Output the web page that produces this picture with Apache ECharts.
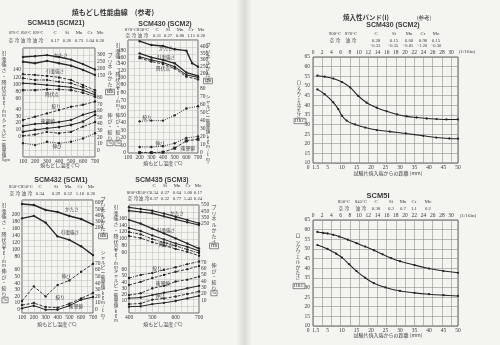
<!DOCTYPE html>
<html><head><meta charset="utf-8">
<script src="https://cdn.jsdelivr.net/npm/echarts/dist/echarts.min.js"></script>
<style>html,body{margin:0;padding:0;background:#f4f4f1}#c{width:500px;height:345px}</style>
</head><body><div id="c"></div><script>
// ===== Chart A: SCM415 (SCM21) =====
const tempA = [100,200,300,400,500,600,700];
const hbA_1 = [284,290,298,284,265,232,192];
const hbA_2 = [249,238,255,238,220,189,152];
const tsA_1 = [128,126,123,119,112,98,84];
const tsA_2 = [117,112,112,107,103,92,77];
const ypA_1 = [103,101,98,95,92,84,71];
const ypA_2 = [84,84,86,86,84,77,66];
const raA   = [46,51,56,61,66,69,74];
const elA_1 = [37,40,41,43,46,54,59];
const elA_2 = [22,24,28,26,28,36,43];
const elA_3 = [11,8,13,11,13,18,26];
const ivA   = [7,10,12,14,17,22,32];
// ===== Chart B: SCM430 (SCM2) =====
const tempB  = [200,300,400,500,600,650,700];
const hbB    = [441,412,405,380,370,275,249];
const tempB2 = [200,300,400,500,600,700];
const tsB    = [171,159,152,142,115,105];
const ypB_1  = [161,152,144,132,108,101];
const ypB_2  = [157,147,140,127,103,95];
const raB    = [42,43,43,50,59,62];
const elB    = [8,8,9,13,20,22];
const ivB    = [0.5,0.5,1,6,15,17];
// ===== Chart C: SCM432 (SCM1) =====
const tempC = [100,200,300,400,500,600,700];
const hbC   = [584,568,486,454,388,339,247];
const tsC   = [188,195,176,137,127,109,84];
const elC   = [13,35,20,37,44,57,69];
const ivC   = [7,10,4,3,9,17,25];
const raC   = [2,6,0,0,6,15,19];
// ===== Chart D: SCM435 (SCM3) =====
const tempD = [400,450,500,550,600,650,700];
const hbD_1 = [514,487,460,416,366,314,262];
const hbD_2 = [460,440,419,372,325,278,235];
const tsD_1 = [156,145,130,116,101,86,71];
const tsD_2 = [132,123,110,98,86,76,64];
const ypD_1 = [120,113,99,89,79,68,58];
const ypD_2 = [108,102,90,80,70,61,50];
const raD_1 = [45,50,53,58,62,67,71];
const raD_2 = [34,39,45,50,55,59,64];
const ivD_1 = [19,22,30,34,41,44,49];
const ivD_2 = [14,15,19,23,26,30,34];
const elD_1 = [4,5,11,13,16,20,24];
const elD_2 = [0,0.5,4,6,9,13,17];
// ===== Right page: hardenability bands =====
const r1UpX = [1.5,4,7,10,12.8,15.6,18.5,22,25.4,29,32.3,35.7,39.2,42.6,46,50];
const r1UpY = [55.3,54.8,53.8,52,49.2,44.8,41.3,38.7,36.8,35.2,34.2,33.6,33.1,32.8,32.6,32.6];
const r1LoX = [1.5,4,7,8.7,10,11.6,14.5,18,22,26.5,32,38,42.5,47,50];
const r1LoY = [48.2,45.7,41.5,38,34.5,32,30,28.4,27.1,26.3,25.3,24.1,23.2,22.7,22.6];
const r2UpX = [1.5,3.5,5,7,9,12,15,18,21,24,27,30,35,40,45,50];
const r2UpY = [58.8,58.3,58,57.3,56.4,54.8,53,51.2,49.3,47.2,45.2,43.6,41.6,39.8,38.5,37.6];
const r2LoX = [1.5,5,8,10,12.5,15,18,21,25,30,35,40,45,50];
const r2LoY = [52,50,47.5,45.5,42,38.5,35,32.2,30,28.2,27.2,26.5,26,25.6];

const TXT = '#3a3a3a', LINE = '#262626', GRIDC = '#bcbcb8';
const SERIF = "'Liberation Serif','Noto Sans CJK JP',serif";
const JP = "'Noto Sans CJK JP',sans-serif";
const SANS = "'Liberation Sans','Noto Sans CJK JP',sans-serif";
const DASH = [3,1.5], DOT = [1,1.3], DASHDOT = [3,1.2,1,1.2];
const TICK = 5.5;

const option = {animation:false, backgroundColor:'#f4f4f1', grid:[], xAxis:[], yAxis:[], series:[], graphic:[]};
function grid(left, top, width, height){ option.grid.push({left, top, width, height, show:true, borderColor:'#404040', borderWidth:0.8, backgroundColor:'rgba(0,0,0,0)'}); return option.grid.length-1; }
function xAx(g,o){ option.xAxis.push(Object.assign({gridIndex:g, type:'value', axisTick:{show:false}, axisLine:{show:false}}, o)); return option.xAxis.length-1; }
function yAx(g,o){ option.yAxis.push(Object.assign({gridIndex:g, type:'value', axisTick:{show:false}, axisLine:{show:false}, splitLine:{show:false}}, o)); return option.yAxis.length-1; }
function labFmt(lo,hi,step){ return v=>{ const k=(v-lo)/step; return (v>=lo-1e-6 && v<=hi+1e-6 && Math.abs(k-Math.round(k))<1e-6) ? String(v) : ''; }; }
function labY(g,pos,min,max,interval,lo,hi,step){ return yAx(g,{position:pos,min,max,interval,axisLabel:{fontSize:TICK,color:TXT,fontFamily:SERIF,margin:2,showMinLabel:true,showMaxLabel:true,formatter:labFmt(lo,hi,step)}}); }
function gridY(g,n){ return yAx(g,{min:0,max:n,interval:1,axisLabel:{show:false},splitLine:{show:true,lineStyle:{color:GRIDC,width:0.5}}}); }
function tempX(g,min,max,step){ return xAx(g,{min,max,interval:step,axisLabel:{fontSize:TICK,color:TXT,fontFamily:SERIF,margin:2,showMinLabel:true,showMaxLabel:true,formatter:v=>v%100===0?String(v):''},splitLine:{show:true,lineStyle:{color:GRIDC,width:0.5}}}); }
function line(x,y,xs,ys,st){ st=st||{}; option.series.push({type:'line',xAxisIndex:x,yAxisIndex:y,data:xs.map((t,i)=>[t,ys[i]]),symbol:st.symbol||'circle',symbolSize:st.size||2.4,smooth:st.smooth||false,lineStyle:{color:LINE,width:st.w||0.9,type:st.type||'solid'},itemStyle:{color:LINE},z:5,silent:true}); }
function txt(x,y,s,o){ option.graphic.push({type:'text',x,y,silent:true,z:10,style:Object.assign({text:s,fill:TXT,fontSize:6,fontFamily:JP,align:'center',verticalAlign:'middle',textAlign:'center',textVerticalAlign:'middle'},o||{})}); }
function vtxt(x,y,s,size,lh){ size=size||6; txt(x,y,s.split('').join('\n'),{fontSize:size,lineHeight:lh||size+0.8,verticalAlign:'top',textVerticalAlign:'top'}); }
function box(x,y,s,size){ txt(x,y,s,{fontSize:size||5,fontFamily:SERIF,borderColor:'#444',borderWidth:0.6,padding:[0.5,1,0,1]}); }
function row(y,items,xs,size){ items.forEach((s,i)=>{ if(s) txt(xs[i],y,s,{fontSize:size||4.8,fontFamily:SERIF}); }); }
const LBL = {fontSize:4.6};

// ---------- Left page ----------
txt(113,12,'焼もどし性能曲線　(参考)',{fontSize:7,fontWeight:'bold'});
// Chart A
txt(56,23,'SCM415 (SCM21)',{fontSize:7,fontWeight:'bold',fontFamily:SANS});
row(33,['870°C','850°C','820°C'],[14,26,38],4.2);
row(33,['C','Si','Mn','Cr','Mo'],[55,67,79,90,100]);
row(41,['空 冷','油 冷','油 冷','0.17','0.26','0.73','1.04','0.20'],[14,26,38,55,67,79,90,100]);
{
 const g = grid(23,48,72,109);
 const x = tempX(g,100,700,50);
 gridY(g,16);
 const yS = labY(g,'left',-100,200,20,60,140,20);
 const yI = labY(g,'left',-30,130,10,0,40,10);
 const yH = labY(g,'right',-450,350,50,150,300,50);
 const yP = labY(g,'right',-10,155,10,0,80,10);
 line(x,yH,tempA,hbA_1,{w:1.3});
 line(x,yH,tempA,hbA_2,{w:1.3});
 line(x,yS,tempA,tsA_1,{type:DASH});
 line(x,yS,tempA,tsA_2,{type:DASHDOT});
 line(x,yS,tempA,ypA_1,{w:1});
 line(x,yS,tempA,ypA_2,{type:DASHDOT,symbol:'rect'});
 line(x,yP,tempA,raA,{type:DASH});
 line(x,yP,tempA,elA_1,{w:1});
 line(x,yP,tempA,elA_2,{type:DASH});
 line(x,yP,tempA,elA_3,{type:DOT});
 line(x,yI,tempA,ivA,{w:1,symbol:'rect'});
}
vtxt(4,50,'引張強さ・降伏点',5); vtxt(4,96,'kg/mm²',4.2,4.4);
vtxt(4,118,'シャルピー衝撃値',4.6,4.9);
txt(6,160,'kgm',{fontSize:4.3,fontFamily:SERIF});
vtxt(110,52,'ブリネルかたさ',5); box(110,92,'HB');
vtxt(110,112,'伸び・絞り',5); box(110,143,'%');
txt(61,55,'かたさ',LBL); txt(55,71,'引張強さ',LBL); txt(52,94,'降伏点',LBL);
txt(56,106,'絞り',LBL); txt(48,121,'衝撃値',LBL); txt(57,146,'伸び',LBL);
txt(60,165,'焼もどし温度 (°C)',{fontSize:5});

// Chart B
txt(165,24,'SCM430 (SCM2)',{fontSize:7,fontWeight:'bold',fontFamily:SANS});
row(29.5,['870°C','830°C','C','Si','Mn','Cr','Mo'],[131,143,157,168,180,191,201]);
row(35.5,['空 冷','油 冷','0.31','0.27','0.80','1.11','0.20'],[131,143,157,168,180,191,201]);
{
 const g = grid(128,40,70,113);
 const x = tempX(g,100,700,50);
 gridY(g,16);
 const yS = labY(g,'left',-120,210,20,80,180,20);
 const yP = labY(g,'left',0,150,10,0,80,10);
 const yH = labY(g,'right',-400,450,50,200,400,50);
 const yI = labY(g,'right',0,140,10,0,80,10);
 line(x,yH,tempB,hbB,{w:1.4});
 line(x,yS,tempB2,tsB,{w:1.3});
 line(x,yS,tempB2,ypB_1,{w:1});
 line(x,yS,tempB2,ypB_2,{type:DASH});
 line(x,yP,tempB2,raB,{type:DOT});
 line(x,yP,tempB2,elB,{type:DOT});
 line(x,yI,tempB2,ivB,{type:DASH,symbol:'rect',size:3});
}
vtxt(118,42,'引張強さ・降伏点',5); vtxt(118,86,'kg/mm²',4.2,4.4);
vtxt(118,112,'伸び・絞り',5); box(118,143,'%');
vtxt(208,42,'ブリネルかたさ',5); box(208,81,'HB');
vtxt(208,94,'シャルピー衝撃値',4.6,4.9); vtxt(208,135,'kgm/cm²',4.2,4.4);
txt(166,48,'かたさ',LBL); txt(166,57,'引張強さ',LBL); txt(163,68,'降伏点',LBL);
txt(147,117,'絞り',LBL); txt(160,143,'伸び',LBL); txt(188,148,'衝撃値',LBL);
txt(163,163,'焼もどし温度 (°C)',{fontSize:5});

// Chart C
txt(61,180,'SCM432 (SCM1)',{fontSize:7,fontWeight:'bold',fontFamily:SANS});
row(186.5,['850°C','850°C','C','Si','Mn','Cr','Mo'],[15,27,40,56,68,80,91]);
row(193.5,['空 冷','油 冷','0.34','0.29','0.52','1.10','0.26'],[15,27,40,56,68,80,91]);
{
 const g = grid(22,200,71,113);
 const x = tempX(g,100,700,50);
 gridY(g,17);
 const yS = labY(g,'left',-80,240,20,80,200,20);
 const yP = labY(g,'left',-5,165,5,0,60,10);
 const yH = labY(g,'right',-1200,650,100,200,600,100);
 const yI = labY(g,'right',-5,165,5,0,70,10);
 line(x,yH,tempC,hbC,{w:1.4});
 line(x,yS,tempC,tsC,{w:1.4});
 line(x,yP,tempC,elC,{type:DASH});
 line(x,yI,tempC,ivC,{type:DASH});
 line(x,yP,tempC,raC,{w:1});
}
vtxt(4,202,'引張強さ・降伏点',5); vtxt(4,246,'kg/mm²',4.2,4.4);
vtxt(4,268,'伸び・絞り',5); box(5,300,'%');
vtxt(103,196,'ブリネルかたさ',5); box(103,236,'HB');
vtxt(103,250,'シャルピー衝撃値',4.6,4.9); vtxt(103,291,'kgm/cm²',4.2,4.4);
txt(72,209,'かたさ',LBL); txt(70,232,'引張強さ',LBL); txt(66,276,'伸び',LBL);
txt(60,297,'絞り',LBL); txt(76,306,'衝撃値',LBL);
txt(57,324,'焼もどし温度 (°C)',{fontSize:5});

// Chart D
txt(162,180,'SCM435 (SCM3)',{fontSize:7,fontWeight:'bold',fontFamily:SANS});
row(186,['','','C','Si','Mn','Cr','Mo'],[133,144,154,165,177,188,198]);
row(192.5,['860°C','850°C','0.34','0.27','0.64','1.00','0.17'],[133,144,154,165,177,188,198]);
row(199,['空 冷','油 冷','0.37','0.32','0.77','1.43','0.24'],[133,144,154,165,177,188,198]);
{
 const g = grid(129,205,70,108);
 const x = tempX(g,400,700,25);
 gridY(g,16);
 const yS = labY(g,'left',-120,200,20,60,160,20);
 const yI = labY(g,'left',-10,165,5,10,60,10);
 const yH = labY(g,'right',-1150,550,50,250,550,100);
 const yP = labY(g,'right',-10,160,5,10,70,10);
 line(x,yH,tempD,hbD_1,{w:1.2});
 line(x,yH,tempD,hbD_2,{w:1.2});
 line(x,yS,tempD,tsD_1,{w:1.3});
 line(x,yS,tempD,tsD_2,{w:1});
 line(x,yS,tempD,ypD_1,{type:DASHDOT});
 line(x,yS,tempD,ypD_2,{type:DASH});
 line(x,yP,tempD,raD_1,{type:DASHDOT});
 line(x,yP,tempD,raD_2,{type:DASH});
 line(x,yI,tempD,ivD_1,{type:DASH});
 line(x,yI,tempD,ivD_2,{w:1});
 line(x,yP,tempD,elD_1,{type:DASH});
 line(x,yP,tempD,elD_2,{w:1});
}
vtxt(116,204,'引張強さ・降伏点',5); vtxt(116,248,'kg/mm²',4.2,4.4);
vtxt(116,268,'シャルピー衝撃値',4.6,4.9); vtxt(116,309,'kgm',4.2,4.4);
vtxt(214,204,'ブリネルかたさ',5); box(214,246,'HB');
vtxt(214,262,'伸び・絞り',5); box(214,293,'%');
txt(177,213,'かたさ',LBL); txt(166,230,'引張強さ',LBL); txt(166,244,'降伏点',LBL);
txt(157,268,'絞り',LBL); txt(163,283,'衝撃値',LBL); txt(160,295,'伸び',LBL);
txt(163,324,'焼もどし温度 (°C)',{fontSize:5});

// gutter shadow
option.graphic.push({type:'rect',shape:{x:236,y:0,width:16,height:345},silent:true,z:0,style:{fill:{type:'linear',x:0,y:0,x2:1,y2:0,colorStops:[{offset:0,color:'rgba(200,200,195,0)'},{offset:0.55,color:'rgba(190,190,185,0.5)'},{offset:1,color:'rgba(200,200,195,0)'}]}}});

// ---------- Right page ----------
txt(366,18,'焼入性バンド(I)',{fontSize:6.5,fontWeight:'bold'});
txt(424,18,'(参考)',{fontSize:5.5});
function bandChart(top, upX, upY, loX, loY){
 const g = grid(313,top,145,106);
 const xb = xAx(g,{min:0,max:50,interval:5,axisLabel:{fontSize:TICK,color:TXT,fontFamily:SERIF,margin:2,showMinLabel:true,showMaxLabel:true,formatter:v=>v===0?'0  1.5':String(v)},splitLine:{show:false}});
 xAx(g,{position:'top',min:0,max:50/1.5875,interval:2,axisLabel:{fontSize:TICK,color:TXT,fontFamily:SERIF,margin:2,showMinLabel:true,showMaxLabel:true,formatter:v=>(Math.abs(v-Math.round(v))<1e-6 && v<=30)?String(v):''},splitLine:{show:true,lineStyle:{color:'#8f8f8c',width:0.6}}});
 const y = yAx(g,{min:10,max:65,interval:5,axisLabel:{fontSize:TICK,color:TXT,fontFamily:SERIF,margin:3},splitLine:{show:true,lineStyle:{color:'#8f8f8c',width:0.6}}});
 line(xb,y,upX,upY,{smooth:0.4,w:1.1,size:2.3});
 line(xb,y,loX,loY,{smooth:0.4,w:1.1,size:2.3});
}
// R1
txt(393,25.5,'SCM430 (SCM2)',{fontSize:7,fontWeight:'bold',fontFamily:SANS});
row(34,['900°C','870°C','C','Si','Mn','Cr','Mo'],[335,351,376,394,409,423,436]);
row(41,['空 冷','油 冷','0.28','0.15','0.60','0.90','0.15'],[335,351,376,394,409,423,436]);
row(46,['','','~0.33','~0.35','~0.85','~1.20','~0.30'],[335,351,375,393,408,422,436],4.5);
bandChart(57,r1UpX,r1UpY,r1LoX,r1LoY);
txt(467,52,'(1/16in)',{fontSize:5,fontFamily:SERIF});
vtxt(299,80,'ロックウェルかたさ',4.3,4.2); box(300,121,'HRC',4.8);
txt(388,173,'試験片焼入端からの距離 (mm)',{fontSize:5});
// R2
txt(378,196,'SCM5I',{fontSize:7.5,fontWeight:'bold',fontFamily:SANS});
row(202,['850°C','845°C','C','Si','Mn','Cr','Mo'],[344,361,376,391,403,414,428]);
row(208.5,['空 冷','油 冷','0.38','0.3','0.7','1.1','0.2'],[344,361,376,391,403,414,428]);
bandChart(220,r2UpX,r2UpY,r2LoX,r2LoY);
txt(468,216,'(1/16in)',{fontSize:5,fontFamily:SERIF});
vtxt(298,233,'ロックウェルかたさ',4.8,5.2); box(299,286,'HRC',4.8);
txt(388,335,'試験片焼入端からの距離 (mm)',{fontSize:5});

const chart = echarts.init(document.getElementById('c'),null,{renderer:'canvas'});
chart.setOption(option);
</script></body></html>
